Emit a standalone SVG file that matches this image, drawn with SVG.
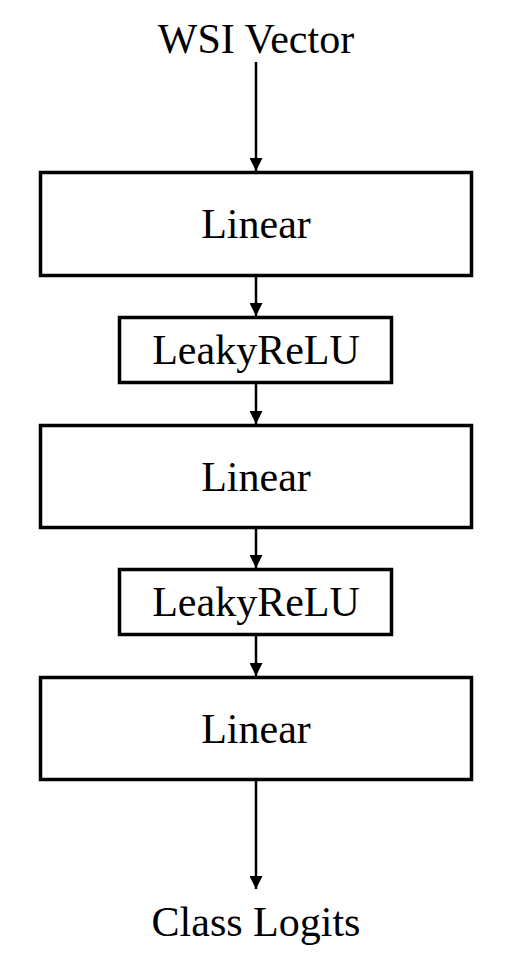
<svg xmlns="http://www.w3.org/2000/svg" width="510" height="974" viewBox="0 0 510 974">
<style>
.box{fill:#fff;stroke:#000;stroke-width:3.5}
.t{font-family:"Liberation Serif","Times New Roman",serif;font-size:42px;fill:#000;text-anchor:middle}
.c{stroke:#000;stroke-width:2.5;fill:none}
</style>
<defs>
<marker id="ah" markerWidth="13" markerHeight="13" refX="13" refY="6.5" orient="auto" markerUnits="userSpaceOnUse">
<path d="M0,0 L13,6.5 L0,13 Z" fill="#000"/>
</marker>
</defs>
<rect width="510" height="974" fill="#fff"/>
<g id="connectors">
<line class="c" x1="256" y1="62" x2="256" y2="171" marker-end="url(#ah)"/>
<line class="c" x1="256" y1="277" x2="256" y2="316" marker-end="url(#ah)"/>
<line class="c" x1="256" y1="384" x2="256" y2="424" marker-end="url(#ah)"/>
<line class="c" x1="256" y1="529" x2="256" y2="568" marker-end="url(#ah)"/>
<line class="c" x1="256" y1="636" x2="256" y2="676" marker-end="url(#ah)"/>
<line class="c" x1="256" y1="781" x2="256" y2="889" marker-end="url(#ah)"/>
</g>
<g id="input"><text class="t" x="256" y="53">WSI Vector</text></g>
<g id="linear1"><rect class="box" x="40.5" y="172.5" width="431" height="103"/><text class="t" x="256" y="238">Linear</text></g>
<g id="leaky1"><rect class="box" x="119.5" y="317.5" width="272" height="65"/><text class="t" x="256" y="364">LeakyReLU</text></g>
<g id="linear2"><rect class="box" x="40.5" y="425.5" width="431" height="102"/><text class="t" x="256" y="491">Linear</text></g>
<g id="leaky2"><rect class="box" x="119.5" y="569.5" width="272" height="65"/><text class="t" x="256" y="616">LeakyReLU</text></g>
<g id="linear3"><rect class="box" x="40.5" y="677.5" width="431" height="102"/><text class="t" x="256" y="743">Linear</text></g>
<g id="output"><text class="t" x="256" y="936">Class Logits</text></g>
</svg>
